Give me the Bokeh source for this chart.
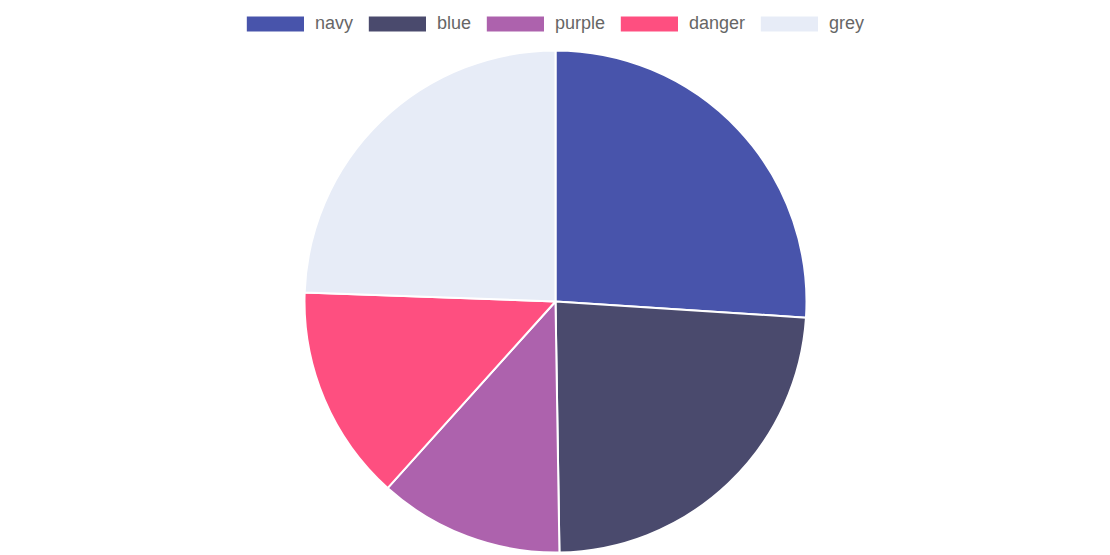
import numpy as np
from bokeh.plotting import figure
from bokeh.models import Range1d, ColumnDataSource, Legend, LegendItem
from bokeh.embed import file_html
from bokeh.resources import INLINE

labels = ["navy", "blue", "purple", "danger", "grey"]
values = [26.0, 23.7, 11.9, 13.9, 24.4]
colors = ["#4854ab", "#4a4a6d", "#ad62ad", "#fe4f80", "#e7ecf7"]

vals = np.array(values, dtype=float)
fr = vals / vals.sum()
ends_cum = np.cumsum(fr)
starts_cum = np.concatenate([[0.0], ends_cum[:-1]])
start_angle = np.pi / 2 - 2 * np.pi * ends_cum
end_angle = np.pi / 2 - 2 * np.pi * starts_cum

W, H = 1102, 555
cx, cy = 555, 301  # pie centre in pixels from top-left of the figure
R = 251

p = figure(width=W, height=H, output_backend="svg", toolbar_location=None,
           x_range=Range1d(-cx, W - cx), y_range=Range1d(-(H - cy), cy),
           min_border=0)
p.axis.visible = False
p.grid.visible = False
p.outline_line_color = None

items = []
for i, lab in enumerate(labels):
    src = ColumnDataSource(dict(x=[0], y=[0], s=[start_angle[i]], e=[end_angle[i]]))
    r = p.wedge(x="x", y="y", radius=R, start_angle="s", end_angle="e",
                fill_color=colors[i], line_color="white", line_width=2, source=src)
    items.append(LegendItem(label=lab, renderers=[r]))

legend = Legend(items=items, orientation="horizontal", location="top_center",
                glyph_width=74, glyph_height=21, label_standoff=3, spacing=7,
                padding=0, margin=13, label_height=21,
                label_text_font="Liberation Sans", label_text_font_size="18px",
                label_text_color="#666666",
                border_line_alpha=0, background_fill_alpha=0)
p.add_layout(legend, "center")

open("out.html", "w").write(file_html(p, INLINE))
